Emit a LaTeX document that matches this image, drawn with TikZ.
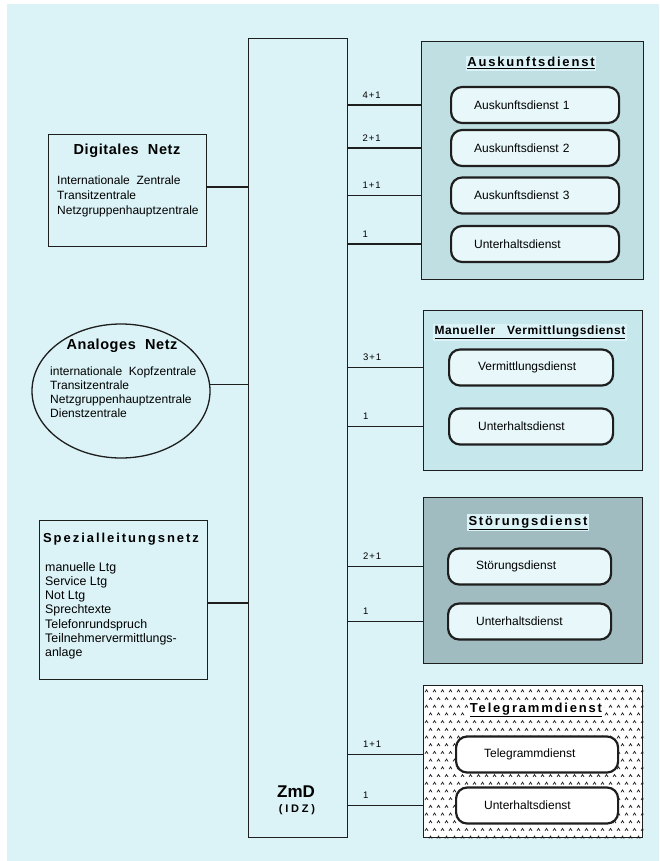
\documentclass[tikz,border=0pt]{standalone}
\usepackage{fontspec}
\setmainfont{Liberation Sans}
\usetikzlibrary{shapes.geometric,calc}
\definecolor{bg}{RGB}{219,243,247}
\definecolor{auskfill}{RGB}{192,223,227}
\definecolor{manfill}{RGB}{198,232,236}
\definecolor{stoerfill}{RGB}{160,188,192}
\definecolor{innerfill}{RGB}{232,248,250}
\definecolor{ink}{RGB}{30,30,30}
\tikzset{
  conn/.style={draw=ink, line width=1.2pt},
  outer/.style={draw=ink, line width=1.3pt, rectangle, inner sep=0pt, anchor=north west},
  svc/.style={draw=ink, line width=2.2pt, rounded corners=11pt, fill=innerfill, minimum height=36pt,
    inner ysep=0pt, align=left, anchor=west, font=\fontsize{12}{14}\selectfont},
  ttl/.style={font=\fontsize{13}{15}\selectfont\bfseries\addfontfeatures{LetterSpace=14}, inner sep=1.5pt, fill=bg, anchor=base},
  ltitle/.style={font=\fontsize{14.5}{17}\selectfont\bfseries\addfontfeatures{LetterSpace=4}, inner sep=0pt, anchor=base},
  num/.style={font=\fontsize{9.5}{11}\selectfont\addfontfeatures{LetterSpace=10}, inner sep=0pt, anchor=base west},
  body/.style={font=\fontsize{12}{15}\selectfont, align=left, inner sep=0pt, anchor=north west},
  caret/.style={draw=ink, line width=0.7pt}
}
\begin{document}
\begin{tikzpicture}[x=1pt,y=-1pt]
\useasboundingbox (0,0) rectangle (659,861);
\fill[bg] (7,4) rectangle (659,861);

% central ZmD bar
\node[outer, minimum width=99pt, minimum height=799pt] (zmd) at (248,38) {};
\node[font=\fontsize{17}{19}\selectfont\bfseries, inner sep=0pt, anchor=base] (zmdt) at (296,797) {ZmD};
\node[font=\fontsize{11}{13}\selectfont\bfseries\addfontfeatures{LetterSpace=25}, inner sep=0pt, anchor=base] (idz) at (297,812) {(IDZ)};

% left side: Digitales Netz
\node[outer, minimum width=158pt, minimum height=112pt] (D) at (48,134) {};
\node[ltitle] (Dt) at (127,155) {Digitales\ \ Netz};
\node[body] (Dl) at (57,175.7) {Internationale\ \ Zentrale\\Transitzentrale\\Netzgruppenhauptzentrale};
\coordinate (cd) at (0,187);
\draw[conn] (D.east |- cd) -- (zmd.west |- cd);

% Analoges Netz
\node[draw=ink, line width=1.3pt, ellipse, minimum width=178pt, minimum height=134pt, inner sep=0pt] (E) at (121,391) {};
\node[ltitle] (Et) at (122,349) {Analoges\ \ Netz};
\node[body, font=\fontsize{12}{14}\selectfont] (El) at (50,367) {internationale\ \ Kopfzentrale\\Transitzentrale\\Netzgruppenhauptzentrale\\Dienstzentrale};
\draw[conn] (E.4) -- (zmd.west |- E.4);

% Spezialleitungsnetz
\node[outer, minimum width=168pt, minimum height=159pt] (S) at (39,520) {};
\node[font=\fontsize{13}{15}\selectfont\bfseries\addfontfeatures{LetterSpace=15}, inner sep=0pt, anchor=base] (St) at (121,542) {Spezialleitungsnetz};
\node[body, font=\fontsize{12.4}{14.1}\selectfont] (Sl) at (45,562.5) {manuelle Ltg\\Service Ltg\\Not Ltg\\Sprechtexte\\Telefonrundspruch\\Teilnehmervermittlungs-\\anlage};
\coordinate (cs) at (0,603);
\draw[conn] (S.east |- cs) -- (zmd.west |- cs);

% Auskunftsdienst
\node[outer, fill=auskfill, minimum width=222pt, minimum height=238pt] (A) at (421,41) {};
\node[ttl] (At) at (531,67) {\underline{Auskunftsdienst}};
\node[svc, text width=122pt, inner xsep=23pt] (a1) at (450,105) {Auskunftsdienst 1};
\node[svc, text width=122pt, inner xsep=23pt] (a2) at (450,148) {Auskunftsdienst 2};
\node[svc, text width=122pt, inner xsep=23pt] (a3) at (450,195.5) {Auskunftsdienst 3};
\node[svc, text width=122pt, inner xsep=23pt] (a4) at (450,244) {Unterhaltsdienst};
\draw[conn] (zmd.east |- a1) -- node[num, pos=0.19, yshift=6.6pt] {4+1} (A.west |- a1);
\draw[conn] (zmd.east |- a2) -- node[num, pos=0.19, yshift=6.6pt] {2+1} (A.west |- a2);
\draw[conn] (zmd.east |- a3) -- node[num, pos=0.19, yshift=6.6pt] {1+1} (A.west |- a3);
\draw[conn] (zmd.east |- a4) -- node[num, pos=0.19, yshift=6.6pt] {1} (A.west |- a4);

% Manueller Vermittlungsdienst
\node[outer, fill=manfill, minimum width=219pt, minimum height=160pt] (M) at (423,310) {};
\node[ttl, font=\fontsize{12}{14}\selectfont\bfseries\addfontfeatures{LetterSpace=5}] (Mt) at (530,334.5) {\underline{Manueller\ \ \ Vermittlungsdienst}};
\node[svc, text width=106pt, inner xsep=29pt] (m1) at (448,367.5) {Vermittlungsdienst};
\node[svc, text width=106pt, inner xsep=29pt] (m2) at (448,426.5) {Unterhaltsdienst};
\draw[conn] (zmd.east |- m1) -- node[num, pos=0.19, yshift=6.6pt] {3+1} (M.west |- m1);
\draw[conn] (zmd.east |- m2) -- node[num, pos=0.19, yshift=6.6pt] {1} (M.west |- m2);

% Stoerungsdienst
\node[outer, fill=stoerfill, minimum width=219pt, minimum height=166pt] (R) at (423,497) {};
\node[ttl] (Rt) at (528,525) {\underline{Störungsdienst}};
\node[svc, text width=107pt, inner xsep=28pt] (r1) at (447,566.5) {Störungsdienst};
\node[svc, text width=107pt, inner xsep=28pt] (r2) at (447,621.5) {Unterhaltsdienst};
\draw[conn] (zmd.east |- r1) -- node[num, pos=0.19, yshift=6.6pt] {2+1} (R.west |- r1);
\draw[conn] (zmd.east |- r2) -- node[num, pos=0.19, yshift=6.6pt] {1} (R.west |- r2);

% Telegrammdienst
\node[outer, fill=white, minimum width=219pt, minimum height=152pt] (T) at (423,685) {};
\begin{scope}
\clip (T.north west) rectangle (T.south east);
\foreach \j in {0,...,19}{
  \pgfmathsetmacro\yy{691+\j*7.7}
  \pgfmathsetmacro\xo{425+mod(\j,2)*4}
  \foreach \i in {0,...,27}{
    \draw[caret] (\xo+\i*8,\yy+1.2) -- ++(1.5,-2.4) -- ++(1.5,2.4);
  }
}
\end{scope}
\node[outer, minimum width=219pt, minimum height=152pt] (T2) at (423,685) {};
\node[ttl, fill=white] (Tt) at (536,712.5) {\underline{Telegrammdienst}};
\node[svc, fill=white, text width=106pt, inner xsep=28pt] (t1) at (455,754.5) {Telegrammdienst};
\node[svc, fill=white, text width=106pt, inner xsep=28pt] (t2) at (455,805.5) {Unterhaltsdienst};
\draw[conn] (zmd.east |- t1) -- node[num, pos=0.19, yshift=6.6pt] {1+1} (T.west |- t1);
\draw[conn] (zmd.east |- t2) -- node[num, pos=0.19, yshift=6.6pt] {1} (T.west |- t2);
\end{tikzpicture}
\end{document}
